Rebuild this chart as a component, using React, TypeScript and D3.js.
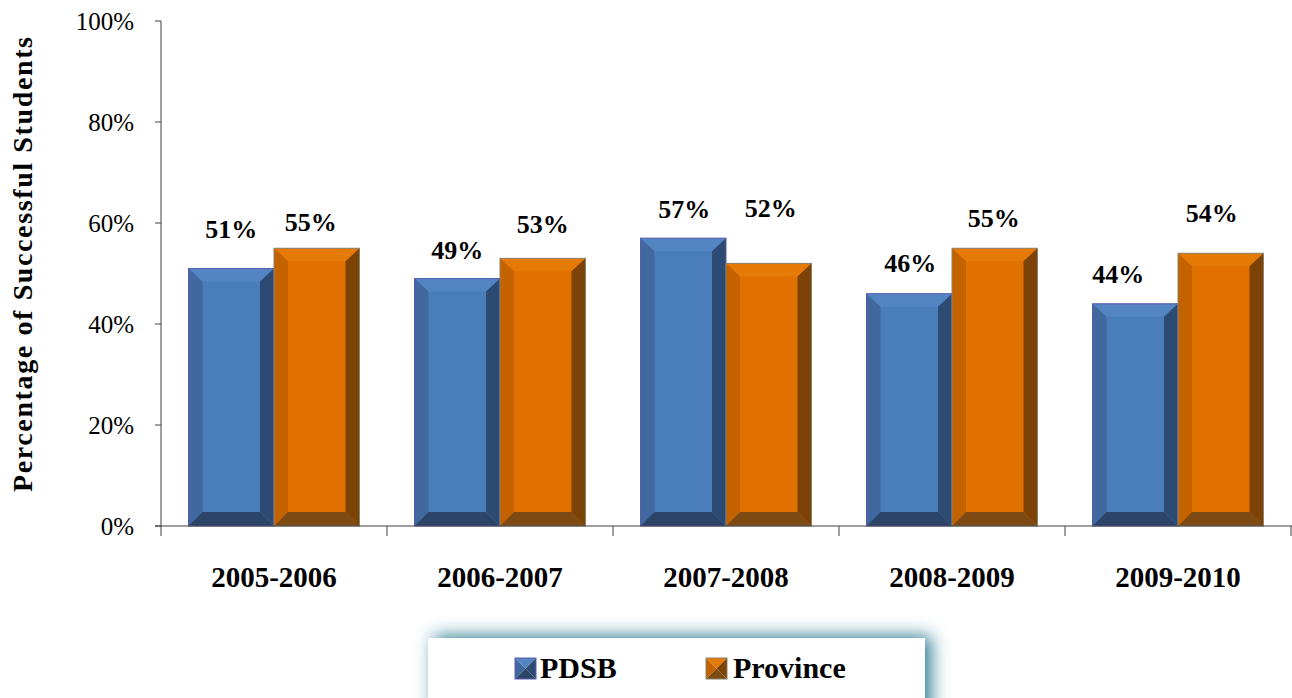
import React from "react";
import * as d3 from "d3";

const categories = ["2005-2006", "2006-2007", "2007-2008", "2008-2009", "2009-2010"];
const seriesNames = ["PDSB", "Province"];
const pdsbValues = [0.51, 0.49, 0.57, 0.46, 0.44];
const provinceValues = [0.55, 0.53, 0.52, 0.55, 0.54];
const yTicks = [0, 0.2, 0.4, 0.6, 0.8, 1.0];

// label nudges (layout only), per series per category
const pdsbLabelDx = [0, 0, 1, 1, -17];
const pdsbLabelDy = [-30, -20, -20, -22, -21];
const provLabelDx = [-6, 0, 2, -1, -9];
const provLabelDy = [-17, -25, -46, -21, -31];

const W = 1292;
const H = 698;
const M = { left: 161, right: 1291, top: 21, bottom: 526 };
const FONT = "Liberation Serif, serif";

const palettes = [
  { face: "#4a7ebb", top: "#5285c2", left: "#41699f", right: "#2d4a72", bottom: "#2c4467", stroke: "#5a5cb2" },
  { face: "#e07000", top: "#e57a06", left: "#c46200", right: "#7c4206", bottom: "#7d4a14", stroke: "#8a8270" },
];

function BevelBar({ x0, x1, y0, y1, pal }: any) {
  const b = 14;
  const bt = 13;
  const pts = (a: number[][]) => a.map((p) => p.join(",")).join(" ");
  return (
    <g>
      <rect x={x0} y={y0} width={x1 - x0} height={y1 - y0} fill={pal.face} />
      <polygon points={pts([[x0, y0], [x1, y0], [x1 - b, y0 + bt], [x0 + b, y0 + bt]])} fill={pal.top} />
      <polygon points={pts([[x0, y0], [x0 + b, y0 + bt], [x0 + b, y1 - b], [x0, y1]])} fill={pal.left} />
      <polygon points={pts([[x1, y0], [x1, y1], [x1 - b, y1 - b], [x1 - b, y0 + bt]])} fill={pal.right} />
      <polygon points={pts([[x0, y1], [x0 + b, y1 - b], [x1 - b, y1 - b], [x1, y1]])} fill={pal.bottom} />
      <rect x={x0} y={y0} width={x1 - x0} height={y1 - y0} fill="none" stroke={pal.stroke} strokeWidth={1} />
    </g>
  );
}

function Swatch({ x, y, s, pal }: any) {
  const c = [x + s / 2, y + s / 2];
  const pts = (a: number[][]) => a.map((p) => p.join(",")).join(" ");
  return (
    <g>
      <polygon points={pts([[x, y], [x + s, y], c])} fill={pal.top} />
      <polygon points={pts([[x, y], c, [x, y + s]])} fill={pal.left} />
      <polygon points={pts([[x + s, y], [x + s, y + s], c])} fill={pal.right} />
      <polygon points={pts([[x, y + s], c, [x + s, y + s]])} fill={pal.bottom} />
      <rect x={x} y={y} width={s} height={s} fill="none" stroke={pal.stroke} strokeWidth={1} />
    </g>
  );
}

export default function App() {
  const y = d3.scaleLinear().domain([0, 1]).range([M.bottom, M.top]);
  const x0 = d3.scaleBand().domain(categories).range([M.left, M.right]).padding(0);
  const x1 = d3.scaleBand().domain(seriesNames).range([27.5, x0.bandwidth() - 27.5]).padding(0);
  const series = [pdsbValues, provinceValues];
  const dxs = [pdsbLabelDx, provLabelDx];
  const dys = [pdsbLabelDy, provLabelDy];
  const fmt = d3.format(".0%");

  return (
    <svg width={W} height={H} style={{ position: "absolute", left: 0, top: 0, background: "#fff", fontFamily: FONT }}>
      <defs>
        <filter id="legShadow" x="-10%" y="-80%" width="125%" height="260%">
          <feDropShadow dx={6} dy={-2} stdDeviation={9} floodColor="#2a7a92" floodOpacity={1} />
        </filter>
      </defs>
      <rect x={0} y={0} width={W} height={H} fill="#fff" />

      {/* y axis */}
      <line x1={M.left} x2={M.left} y1={M.top} y2={M.bottom} stroke="#404040" strokeWidth={1} />
      {yTicks.map((t) => (
        <g key={t}>
          <line x1={M.left - 6} x2={M.left} y1={y(t)} y2={y(t)} stroke="#404040" />
          <text x={134} y={y(t)} dy="0.34em" textAnchor="end" fontSize={25} fill="#000" style={{ fontFamily: FONT }}>
            {fmt(t)}
          </text>
        </g>
      ))}
      <text
        transform={`translate(32,${(M.top + 16 + M.bottom - 34) / 2}) rotate(-90)`}
        textAnchor="middle"
        fontSize={28}
        fontWeight="bold"
        textLength={455}
        lengthAdjust="spacing"
        fill="#000"
        style={{ fontFamily: FONT }}
      >
        Percentage of Successful Students
      </text>

      {/* bars */}
      {categories.map((c, i) => (
        <g key={c}>
          {series.map((vals, s) => {
            const bx = (x0(c) as number) + (x1(seriesNames[s]) as number);
            return (
              <BevelBar key={s} x0={bx} x1={bx + x1.bandwidth()} y0={y(vals[i])} y1={y(0)} pal={palettes[s]} />
            );
          })}
        </g>
      ))}

      {/* x axis */}
      <line x1={M.left - 6} x2={W} y1={M.bottom} y2={M.bottom} stroke="#404040" />
      {[...categories.map((c) => x0(c) as number), M.right].map((tx, i) => (
        <line key={i} x1={tx} x2={tx} y1={M.bottom} y2={M.bottom + 10} stroke="#404040" />
      ))}
      {categories.map((c) => (
        <text
          key={c}
          x={(x0(c) as number) + x0.bandwidth() / 2}
          y={587}
          textAnchor="middle"
          fontSize={29}
          fontWeight="bold"
          fill="#000"
          style={{ fontFamily: FONT }}
        >
          {c}
        </text>
      ))}

      {/* value labels */}
      {categories.map((c, i) =>
        series.map((vals, s) => {
          const bx = (x0(c) as number) + (x1(seriesNames[s]) as number) + x1.bandwidth() / 2;
          return (
            <text
              key={c + s}
              x={bx + dxs[s][i]}
              y={y(vals[i]) + dys[s][i]}
              textAnchor="middle"
              fontSize={26}
              fontWeight="bold"
              fill="#000"
              style={{ fontFamily: FONT }}
            >
              {fmt(vals[i])}
            </text>
          );
        })
      )}

      {/* legend */}
      <rect x={428} y={638} width={497} height={80} fill="#fff" filter="url(#legShadow)" />
      <Swatch x={515} y={658} s={21} pal={palettes[0]} />
      <text x={540} y={678} fontSize={30} fontWeight="bold" fill="#000" style={{ fontFamily: FONT }}>
        {seriesNames[0]}
      </text>
      <Swatch x={706} y={658} s={21} pal={palettes[1]} />
      <text x={733} y={678} fontSize={30} fontWeight="bold" fill="#000" style={{ fontFamily: FONT }}>
        {seriesNames[1]}
      </text>
    </svg>
  );
}
